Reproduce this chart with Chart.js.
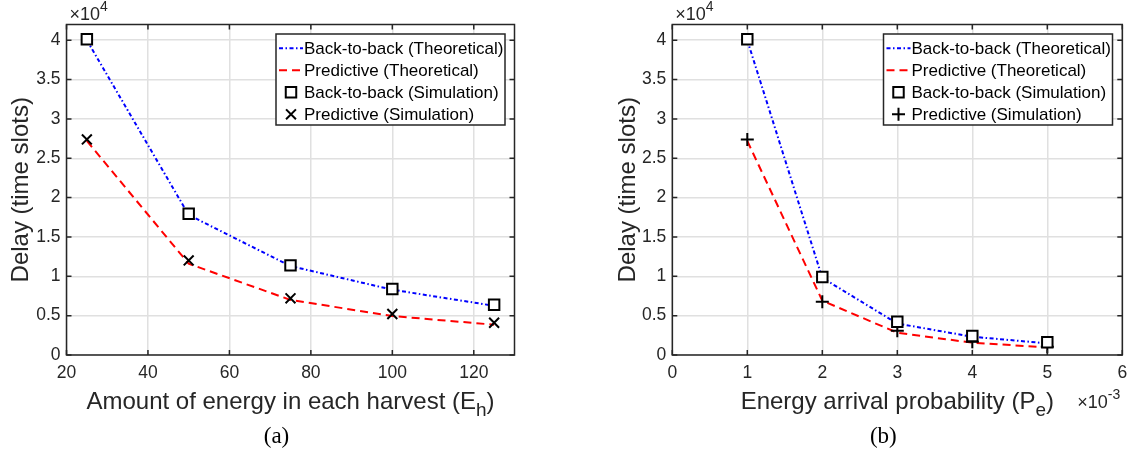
<!DOCTYPE html>
<html>
<head>
<meta charset="utf-8">
<script src="https://cdn.jsdelivr.net/npm/chart.js@4.4.1/dist/chart.umd.min.js"></script>
<style>
body { margin: 0; background: #fff; width: 1145px; height: 456px; overflow: hidden; }
.panel { position: absolute; top: 0; height: 456px; }
#panel_a { left: 0; width: 580px; }
#panel_b { left: 580px; width: 565px; }
</style>
</head>
<body>
<div class="panel" id="panel_a"><canvas id="chart_a"></canvas></div>
<div class="panel" id="panel_b"><canvas id="chart_b"></canvas></div>
<script>
// Panel (a): delay vs. amount of energy in each harvest.
const energyPerHarvest = [25, 50, 75, 100, 125];
const b2bTheoryA = [40000, 17800, 11300, 8300, 6250];
const predTheoryA = [27200, 11600, 7000, 4950, 3850];
const b2bSimA = [40130, 17940, 11390, 8380, 6390];
const predSimA = [27390, 12020, 7200, 5210, 4100];
const xTicksA = [20, 40, 60, 80, 100, 120];

// Panel (b): delay vs. energy arrival probability.
const arrivalProb = [0.001, 0.002, 0.003, 0.004, 0.005];
const b2bTheoryB = [40000, 9800, 4000, 2320, 1480];
const predTheoryB = [27200, 6900, 2830, 1560, 970];
const b2bSimB = [40130, 9900, 4230, 2410, 1610];
const predSimB = [27390, 6770, 3090, 1690, 1050];
const xTicksB = [0, 0.001, 0.002, 0.003, 0.004, 0.005, 0.006];

// Shared delay axis ticks (shown in units of 10^4).
const yTicks = [0, 5000, 10000, 15000, 20000, 25000, 30000, 35000, 40000];

const legendLabels = [
	'Back-to-back (Theoretical)',
	'Predictive (Theoretical)',
	'Back-to-back (Simulation)',
	'Predictive (Simulation)'
];

const FONT = '"Liberation Sans", Arial, Helvetica, sans-serif';
const SERIF = '"Liberation Serif", "Times New Roman", serif';
const AXIS_COLOR = '#262626';
const GRID_COLOR = '#e0e0e0';
const BLUE = 'rgb(0, 0, 255)';
const RED = 'rgb(255, 0, 0)';
const DASH_DOT = [4, 2.5, 1.5, 2.5];
const DASHED = [8, 5];

function toPoints(xs, ys) {
	return xs.map((x, i) => ({ x: x, y: ys[i] }));
}

function lineDataset(xs, ys, color, dash) {
	return {
		data: toPoints(xs, ys),
		showLine: true,
		borderColor: color,
		borderWidth: 2,
		borderDash: dash,
		pointRadius: 0,
		tension: 0,
		fill: false,
		order: 2
	};
}

function markerDataset(xs, ys, style, radius) {
	return {
		data: toPoints(xs, ys),
		showLine: false,
		pointStyle: style,
		pointRadius: radius,
		pointBorderColor: '#000',
		pointBackgroundColor: '#fff',
		pointBorderWidth: 2,
		order: 1
	};
}

// Draws a label with a MATLAB-like subscript, e.g. "(E_h)".
function drawSubscriptText(ctx, parts, cx, baseline, size) {
	const mainFont = `${size}px ${FONT}`;
	const subFont = `${Math.round(size * 0.8)}px ${FONT}`;
	ctx.font = mainFont;
	const w1 = ctx.measureText(parts[0]).width;
	const w3 = ctx.measureText(parts[2]).width;
	ctx.font = subFont;
	const w2 = ctx.measureText(parts[1]).width;
	let x = cx - (w1 + w2 + w3) / 2;
	ctx.textAlign = 'left';
	ctx.textBaseline = 'alphabetic';
	ctx.font = mainFont;
	ctx.fillText(parts[0], x, baseline);
	x += w1;
	ctx.font = subFont;
	ctx.fillText(parts[1], x, baseline + size * 0.3);
	x += w2;
	ctx.font = mainFont;
	ctx.fillText(parts[2], x, baseline);
}

function drawPower(ctx, base, exp, x, baseline) {
	ctx.textAlign = 'left';
	ctx.textBaseline = 'alphabetic';
	ctx.font = `18px ${FONT}`;
	ctx.fillText(base, x, baseline);
	const w = ctx.measureText(base).width;
	ctx.font = `14px ${FONT}`;
	ctx.fillText(exp, x + w, baseline - 9);
}

const matlabFrame = {
	id: 'matlabFrame',
	afterDatasetsDraw(chart, args, opts) {
		const ctx = chart.ctx;
		const a = chart.chartArea;
		const xs = chart.scales.x;
		const ys = chart.scales.y;
		const len = 5;
		ctx.save();
		ctx.strokeStyle = AXIS_COLOR;
		ctx.lineWidth = 1.5;
		ctx.beginPath();
		xs.ticks.forEach(t => {
			const px = xs.getPixelForValue(t.value);
			ctx.moveTo(px, a.bottom); ctx.lineTo(px, a.bottom - len);
			ctx.moveTo(px, a.top); ctx.lineTo(px, a.top + len);
		});
		ys.ticks.forEach(t => {
			const py = ys.getPixelForValue(t.value);
			ctx.moveTo(a.left, py); ctx.lineTo(a.left + len, py);
			ctx.moveTo(a.right, py); ctx.lineTo(a.right - len, py);
		});
		ctx.stroke();
		ctx.strokeRect(a.left, a.top, a.right - a.left, a.bottom - a.top);
		ctx.restore();
	},
	afterDraw(chart, args, opts) {
		const ctx = chart.ctx;
		const a = chart.chartArea;
		const cx = (a.left + a.right) / 2;
		ctx.save();
		ctx.fillStyle = AXIS_COLOR;

		// Y title
		ctx.save();
		ctx.translate(opts.yTitleX, (a.top + a.bottom) / 2);
		ctx.rotate(-Math.PI / 2);
		ctx.font = `24px ${FONT}`;
		ctx.textAlign = 'center';
		ctx.textBaseline = 'middle';
		ctx.fillText('Delay (time slots)', 0, 0);
		ctx.restore();

		// X title with subscript
		drawSubscriptText(ctx, opts.xTitle, cx, 409, 24);

		// Exponent labels
		drawPower(ctx, '\u00d710', '4', a.left + 3, 20);
		if (opts.xExponent) {
			drawPower(ctx, '\u00d710', opts.xExponent, a.right - 45, 408);
		}

		// Caption
		ctx.fillStyle = '#000';
		ctx.font = `23px ${SERIF}`;
		ctx.textAlign = 'center';
		ctx.textBaseline = 'middle';
		ctx.fillText(opts.caption, cx + opts.captionShift, 437);

		// Legend box
		const lg = opts.legend;
		ctx.fillStyle = '#fff';
		ctx.fillRect(lg.left, lg.top, lg.width, lg.height);
		ctx.strokeStyle = AXIS_COLOR;
		ctx.lineWidth = 1.5;
		ctx.strokeRect(lg.left, lg.top, lg.width, lg.height);
		chart.data.datasets.forEach((ds, row) => {
			const y = lg.top + 14.3 + row * 22;
			const x0 = lg.left + 3;
			const x1 = x0 + 24;
			if (ds.showLine === false) {
				ctx.strokeStyle = '#000';
				ctx.fillStyle = '#fff';
				ctx.lineWidth = 2;
				ctx.setLineDash([]);
				Chart.helpers.drawPoint(ctx, {
					pointStyle: ds.pointStyle,
					radius: ds.pointRadius,
					borderWidth: 2,
					rotation: 0
				}, (x0 + x1) / 2, y);
			} else {
				ctx.strokeStyle = ds.borderColor;
				ctx.lineWidth = 2;
				ctx.setLineDash(ds.borderDash);
				ctx.beginPath();
				ctx.moveTo(x0, y);
				ctx.lineTo(x1, y);
				ctx.stroke();
				ctx.setLineDash([]);
			}
			ctx.fillStyle = '#000';
			ctx.font = `17px ${FONT}`;
			ctx.textAlign = 'left';
			ctx.textBaseline = 'middle';
			ctx.fillText(legendLabels[row], x1 + 1, y + 1);
		});
		ctx.restore();
	}
};

function makeChart(canvasId, xs, series, xRange, xTicks, xLabel, frame, yWidth, rightPad, markStyle, markRadius) {
	return new Chart(document.getElementById(canvasId), {
		type: 'scatter',
		data: {
			datasets: [
				lineDataset(xs, series[0], BLUE, DASH_DOT),
				lineDataset(xs, series[1], RED, DASHED),
				markerDataset(xs, series[2], 'rect', 7.4),
				markerDataset(xs, series[3], markStyle, markRadius)
			]
		},
		options: {
			responsive: true,
			maintainAspectRatio: false,
			animation: false,
			events: [],
			layout: { padding: { top: 24.5, right: rightPad, left: 0, bottom: 0 } },
			scales: {
				x: {
					type: 'linear',
					min: xRange[0],
					max: xRange[1],
					afterFit: s => { s.height = 101; },
					afterBuildTicks: s => { s.ticks = xTicks.map(v => ({ value: v })); },
					grid: { color: GRID_COLOR, lineWidth: 1.5, drawTicks: false },
					border: { display: false },
					ticks: {
						padding: 8,
						color: AXIS_COLOR,
						font: { family: FONT, size: 17.5 },
						maxRotation: 0,
						autoSkip: false,
						callback: xLabel
					}
				},
				y: {
					type: 'linear',
					min: 0,
					max: 42000,
					afterFit: s => { s.width = yWidth; },
					afterBuildTicks: s => { s.ticks = yTicks.map(v => ({ value: v })); },
					grid: { color: GRID_COLOR, lineWidth: 1.5, drawTicks: false },
					border: { display: false },
					ticks: {
						padding: 6,
						color: AXIS_COLOR,
						font: { family: FONT, size: 17.5 },
						autoSkip: false,
						callback: v => String(v / 10000)
					}
				}
			},
			plugins: {
				legend: { display: false },
				tooltip: { enabled: false },
				matlabFrame: frame
			}
		},
		plugins: [matlabFrame]
	});
}

makeChart('chart_a', energyPerHarvest,
	[b2bTheoryA, predTheoryA, b2bSimA, predSimA],
	[20, 130], xTicksA, v => String(v),
	{
		yTitleX: 21,
		xTitle: ['Amount of energy in each harvest (E', 'h', ')'],
		caption: '(a)',
		captionShift: -14,
		legend: { left: 276, top: 34, width: 229, height: 91 }
	},
	66.5, 580 - 514.5, 'crossRot', 7);

makeChart('chart_b', arrivalProb,
	[b2bTheoryB, predTheoryB, b2bSimB, predSimB],
	[0, 0.006], xTicksB, v => String(Math.round(v * 1000)),
	{
		yTitleX: 628.5 - 580,
		xTitle: ['Energy arrival probability (P', 'e', ')'],
		xExponent: '-3',
		caption: '(b)',
		captionShift: -14,
		legend: { left: 883.5 - 580, top: 34, width: 229, height: 91 }
	},
	672.3 - 580, 1145 - 1122.3, 'cross', 6.5);
</script>
</body>
</html>
